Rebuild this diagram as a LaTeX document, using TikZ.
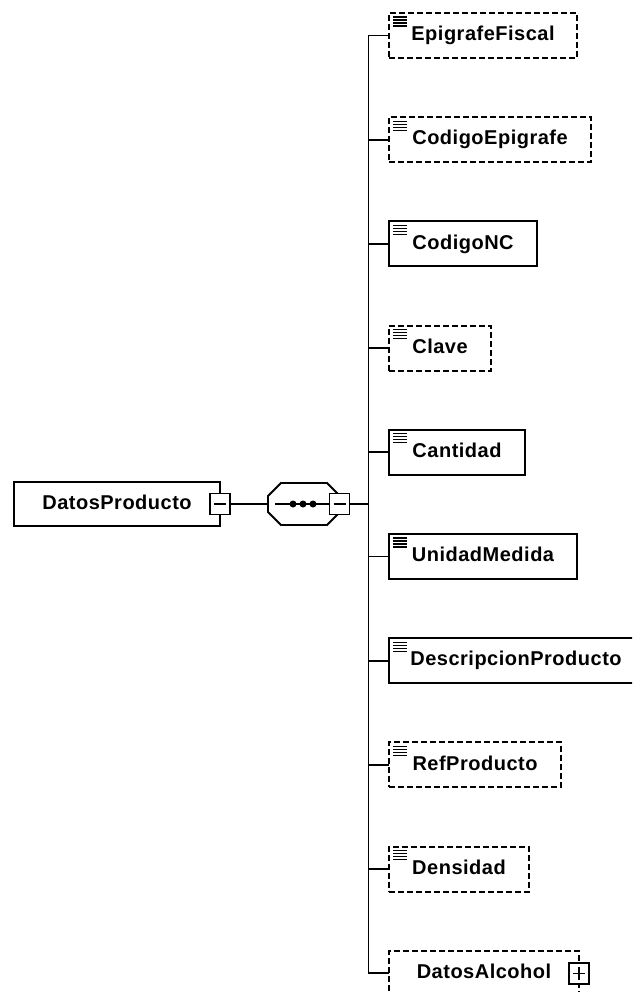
\documentclass[tikz,border=0pt]{standalone}
\usepackage{fontspec}
\setmainfont{Liberation Sans}[LetterSpace=2.5]
\usetikzlibrary{positioning}
\tikzset{
    Elem/.style = {
        draw, line width=1.9pt, fill=white, inner sep=0pt, outer sep=0pt,
        font=\bfseries\fontsize{20}{24}\selectfont,
        minimum height=45pt, text height=14.5pt, text depth=4pt
    },
    Opt/.style = {dash pattern=on 6pt off 3pt},
    Simple/.style = {
        path picture={
            \foreach \k in {4,7,10,13}
                \draw[solid, line width=1.1pt]
                    ([xshift=4pt, yshift=-\k pt]path picture bounding box.north west) -- ++(14pt,0pt);
        }
    },
    Toggle/.style = {draw, solid, line width=1.9pt, fill=white, inner sep=0pt, outer sep=0pt,
        minimum width=20pt, minimum height=21pt},
    Minus/.style = {Toggle,
        path picture={
            \draw[line width=1.6pt] ([xshift=4pt]path picture bounding box.west) -- ([xshift=-4pt]path picture bounding box.east);
        }
    },
    Plus/.style = {Toggle,
        path picture={
            \draw[line width=1.6pt] ([xshift=4pt]path picture bounding box.west) -- ([xshift=-4pt]path picture bounding box.east);
            \draw[line width=1.6pt] ([yshift=-4pt]path picture bounding box.north) -- ([yshift=4pt]path picture bounding box.south);
        }
    },
    Seq/.style = {inner sep=0pt, outer sep=0pt, minimum width=72pt, minimum height=42pt},
    Line/.style = {line width=1.9pt}
}

\begin{document}
\begin{tikzpicture}[x=1pt, y=-1pt]
    \useasboundingbox (0,0) rectangle (632,992);
    \clip (0,0) rectangle (632,992);
    % root and sequence
    \node [Elem, minimum width=206pt, minimum height=44pt, anchor=north west] (DatosProducto) at (14,482) {DatosProducto};
    \node [Minus] (rootminus) at (DatosProducto.east) {};
    \node [Seq, right=38pt of rootminus] (seq) {};
    \draw [Line, fill=white] ([xshift=13pt]seq.north west) -- ([xshift=-13pt]seq.north east)
        -- ([yshift=-13pt]seq.north east) -- ([yshift=13pt]seq.south east)
        -- ([xshift=-13pt]seq.south east) -- ([xshift=13pt]seq.south west)
        -- ([yshift=13pt]seq.south west) -- ([yshift=-13pt]seq.north west) -- cycle;
    \node [Minus, anchor=west] (seqminus) at ([xshift=-10.5pt]seq.east) {};
    \coordinate [right=19pt of seqminus] (bus);
    % children
    \node [Elem, Opt, Simple, minimum width=188pt, anchor=north west] (EpigrafeFiscal) at (389,13) {EpigrafeFiscal};
    \node [Elem, Opt, Simple, minimum width=202pt, below=59.2pt of EpigrafeFiscal.south west, anchor=north west] (CodigoEpigrafe) {CodigoEpigrafe};
    \node [Elem, Simple, minimum width=148pt, below=59.2pt of CodigoEpigrafe.south west, anchor=north west] (CodigoNC) {CodigoNC};
    \node [Elem, Opt, Simple, minimum width=102pt, below=59.2pt of CodigoNC.south west, anchor=north west] (Clave) {Clave};
    \node [Elem, Simple, minimum width=136pt, below=59.2pt of Clave.south west, anchor=north west] (Cantidad) {Cantidad};
    \node [Elem, Simple, minimum width=188pt, below=59.2pt of Cantidad.south west, anchor=north west] (UnidadMedida) {UnidadMedida};
    \node [Elem, Simple, minimum width=254pt, below=59.2pt of UnidadMedida.south west, anchor=north west] (DescripcionProducto) {DescripcionProducto};
    \node [Elem, Opt, Simple, minimum width=172pt, below=59.2pt of DescripcionProducto.south west, anchor=north west] (RefProducto) {RefProducto};
    \node [Elem, Opt, Simple, minimum width=140pt, below=59.2pt of RefProducto.south west, anchor=north west] (Densidad) {Densidad};
    \node [Elem, Opt, minimum width=190pt, below=59.2pt of Densidad.south west, anchor=north west] (DatosAlcohol) {DatosAlcohol};
    \node [Plus] (alcoholplus) at (DatosAlcohol.east) {};
    % connectors
    \draw [Line] (rootminus.east) -- (seq.west);
    \draw [Line] ([xshift=7pt]seq.west) -- (seqminus.west);
    \foreach \dx in {-11,-1,9}
        \fill ([xshift=\dx pt]seq.center) circle (3.5pt);
    \draw [Line] (seqminus.east) -- (bus);
    \draw [Line] (EpigrafeFiscal.west) -- (bus |- EpigrafeFiscal.west) -- (bus |- DatosAlcohol.west) -- (DatosAlcohol.west);
    \draw [Line] (bus |- CodigoEpigrafe.west) -- (CodigoEpigrafe.west);
    \draw [Line] (bus |- CodigoNC.west) -- (CodigoNC.west);
    \draw [Line] (bus |- Clave.west) -- (Clave.west);
    \draw [Line] (bus |- Cantidad.west) -- (Cantidad.west);
    \draw [Line] (bus |- UnidadMedida.west) -- (UnidadMedida.west);
    \draw [Line] (bus |- DescripcionProducto.west) -- (DescripcionProducto.west);
    \draw [Line] (bus |- RefProducto.west) -- (RefProducto.west);
    \draw [Line] (bus |- Densidad.west) -- (Densidad.west);
\end{tikzpicture}
\end{document}
